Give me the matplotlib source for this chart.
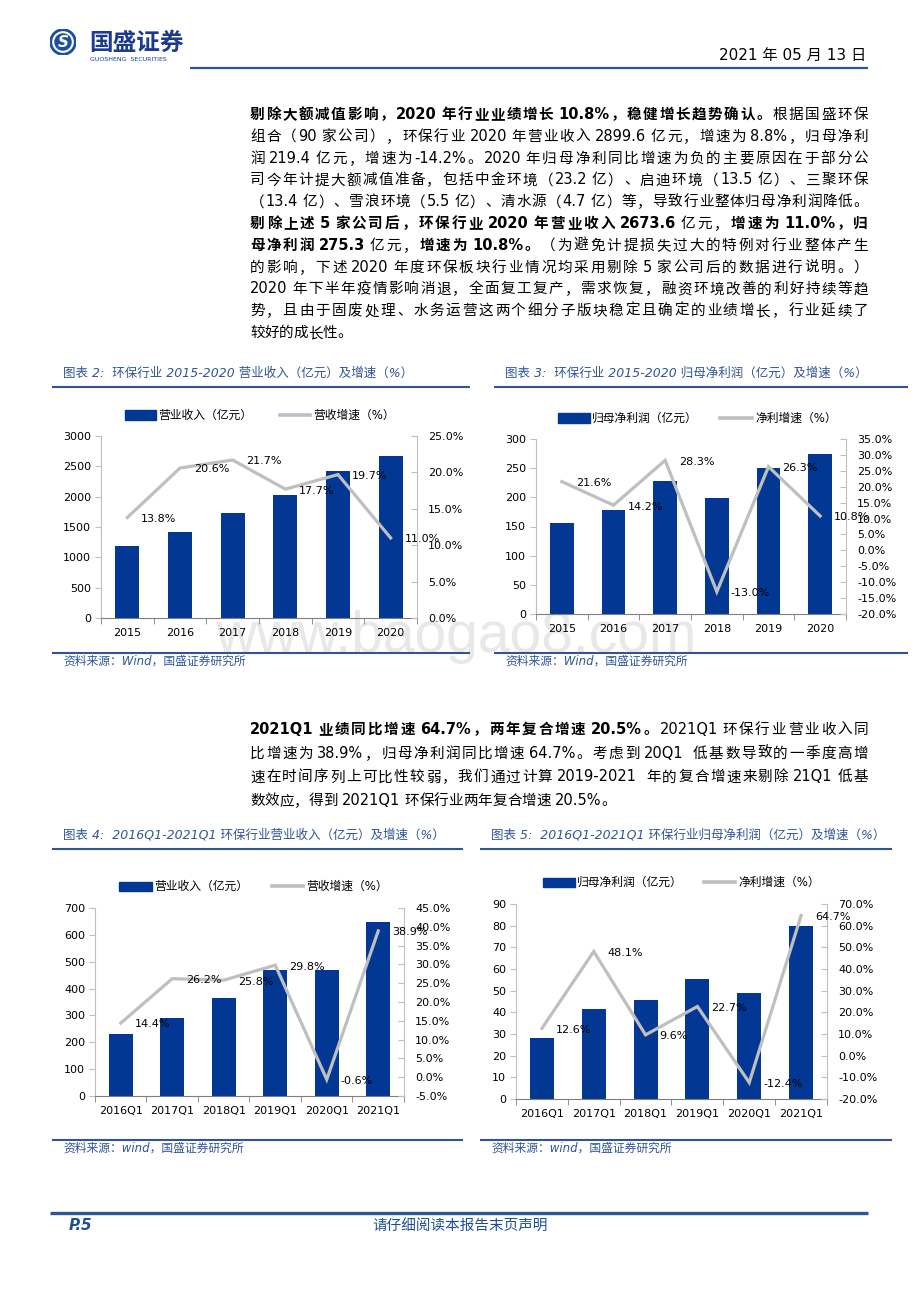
import numpy as np
import matplotlib
matplotlib.use("Agg")
import matplotlib.pyplot as plt
from matplotlib.patches import Rectangle, Circle
from matplotlib.lines import Line2D
from matplotlib.ticker import FuncFormatter
from matplotlib.font_manager import FontProperties, findfont
from matplotlib.ft2font import FT2Font

# ---------------- data ----------------
years = ['2015', '2016', '2017', '2018', '2019', '2020']
revenue = [1180, 1425, 1728, 2030, 2430, 2674]          # 营业收入（亿元）
revenue_growth = [13.8, 20.6, 21.7, 17.7, 19.7, 11.0]   # 营收增速（%）
profit = [156, 178, 228, 199, 250, 275]                 # 归母净利润（亿元）
profit_growth = [21.6, 14.2, 28.3, -13.0, 26.3, 10.8]   # 净利增速（%）

quarters = ['2016Q1', '2017Q1', '2018Q1', '2019Q1', '2020Q1', '2021Q1']
q_revenue = [231, 291, 364, 471, 469, 649]
q_revenue_growth = [14.4, 26.2, 25.8, 29.8, -0.6, 38.9]
q_profit = [28.2, 41.5, 45.5, 55.5, 48.9, 80.0]
q_profit_growth = [12.6, 48.1, 9.6, 22.7, -12.4, 64.7]

# ---------------- page setup ----------------
W, H = 920, 1302
CJK = 'Noto Sans CJK SC'
LAT = 'DejaVu Sans'
MIX = [LAT, CJK]
plt.rcParams['font.family'] = MIX
plt.rcParams['axes.unicode_minus'] = False

BAR = '#023894'
GREY = '#BFBFBF'
NAVY = '#2F5597'
TBLUE = '#2F5597'

fig = plt.figure(figsize=(W / 100, H / 100), dpi=100)
fig.patch.set_facecolor('white')


def fx(x):
    return x / W


def fy(y):
    return 1 - y / H


def hline(x0, x1, y, lw, color=NAVY):
    fig.add_artist(Line2D([fx(x0), fx(x1)], [fy(y), fy(y)], color=color, lw=lw,
                          transform=fig.transFigure, solid_capstyle='butt'))


# ---------------- justified body text ----------------
_fonts = {}


def adv(s, weight, size):
    if weight not in _fonts:
        _fonts[weight] = FT2Font(findfont(FontProperties(family=LAT, weight=weight)))
    f = _fonts[weight]
    f.set_size(size, 100)
    return sum(f.load_char(ord(c)).linearHoriAdvance / 65536 for c in s)


def body_line(y, runs, x0=250, x1=868, size=10.5, justify=True):
    toks = []
    for text, bold in runs:
        w = 'bold' if bold else 'normal'
        buf = ''
        for ch in text:
            if ch == ' ':
                if buf:
                    toks.append(('A', buf, w)); buf = ''
                toks.append(('S', ' ', w))
            elif ord(ch) < 128:
                buf += ch
            else:
                if buf:
                    toks.append(('A', buf, w)); buf = ''
                toks.append(('C', ch, w))
        if buf:
            toks.append(('A', buf, w))
    em = size * 100 / 72
    widths = []
    for k, s, w in toks:
        if k == 'C':
            widths.append(em)
        else:
            widths.append(adv(s, w, size))
    total = sum(widths)
    # gaps that receive justification space: boundaries not touching a space token
    stretch = [i for i in range(len(toks) - 1)
               if toks[i][0] != 'S' and toks[i + 1][0] != 'S']
    n_gap = len(stretch)
    extra = (x1 - x0 - total) / n_gap if (justify and n_gap > 0) else 0
    sset = set(stretch)
    x = x0
    base = y + 5
    for i, ((k, s, w), wd) in enumerate(zip(toks, widths)):
        if k == 'C':
            fig.text(fx(x), fy(base), s, fontsize=size, fontweight=w, family=CJK,
                     va='baseline', ha='left', color='black')
        elif k == 'A':
            fig.text(fx(x), fy(base), s, fontsize=size, fontweight=w, family=LAT,
                     va='baseline', ha='left', color='black')
        x += wd + (extra if i in sset else 0)


# ---------------- header ----------------
lax = fig.add_axes([fx(50), fy(55), 26 / W, 26 / H])
lax.set_xlim(-1, 1); lax.set_ylim(-1, 1); lax.set_aspect('equal'); lax.axis('off')
lax.add_patch(Circle((0, 0), 1.0, color='#1D4FA0'))
lax.add_patch(Circle((0, 0), 0.78, color='white'))
lax.add_patch(Circle((0, 0), 0.62, color='#1D4FA0'))
lax.text(0, -0.05, 'S', color='white', fontsize=11, fontweight='bold',
         ha='center', va='center', family=LAT, style='italic')
fig.text(fx(89), fy(43), '国盛证券', fontsize=17, fontweight='bold', family=CJK,
         color='#1B3C8C', va='center', ha='left')
fig.text(fx(90), fy(59.5), 'GUOSHENG  SECURITIES', fontsize=4.5, family=LAT,
         color='#1B3C8C', va='center', ha='left')
fig.text(fx(866), fy(55), '2021 年 05 月 13 日', fontsize=11, family=MIX,
         color='black', va='center', ha='right')
hline(190, 868, 68, 1.6)

# ---------------- paragraph 1 ----------------
p1 = [
    [('剔除大额减值影响，2020 年行业业绩增长 10.8%，稳健增长趋势确认。', True), ('根据国盛环保', False)],
    [('组合（90 家公司），环保行业 2020 年营业收入 2899.6 亿元，增速为 8.8%，归母净利', False)],
    [('润 219.4 亿元，增速为-14.2%。2020 年归母净利同比增速为负的主要原因在于部分公', False)],
    [('司今年计提大额减值准备，包括中金环境（23.2 亿）、启迪环境（13.5 亿）、三聚环保', False)],
    [('（13.4 亿）、雪浪环境（5.5 亿）、清水源（4.7 亿）等，导致行业整体归母净利润降低。', False)],
    [('剔除上述 5 家公司后，环保行业 2020 年营业收入 2673.6', True), (' 亿元，', False),
     ('增速为 11.0%，归', True)],
    [('母净利润 275.3', True), (' 亿元，', False), ('增速为 10.8%。', True),
     ('（为避免计提损失过大的特例对行业整体产生', False)],
    [('的影响，下述 2020 年度环保板块行业情况均采用剔除 5 家公司后的数据进行说明。）', False)],
    [('2020 年下半年疫情影响消退，全面复工复产，需求恢复，融资环境改善的利好持续等趋', False)],
    [('势，且由于固废处理、水务运营这两个细分子版块稳定且确定的业绩增长，行业延续了', False)],
    [('较好的成长性。', False)],
]
y0, dy = 114, 21.8
for i, runs in enumerate(p1):
    body_line(y0 + i * dy, runs, justify=(i < len(p1) - 1))

# ---------------- paragraph 2 ----------------
p2 = [
    [('2021Q1 业绩同比增速 64.7%，两年复合增速 20.5%。', True), ('2021Q1 环保行业营业收入同', False)],
    [('比增速为 38.9%，归母净利润同比增速 64.7%。考虑到 20Q1  低基数导致的一季度高增', False)],
    [('速在时间序列上可比性较弱，我们通过计算 2019-2021  年的复合增速来剔除 21Q1 低基', False)],
    [('数效应，得到 2021Q1 环保行业两年复合增速 20.5%。', False)],
]
y0, dy = 729, 23.7
for i, runs in enumerate(p2):
    body_line(y0 + i * dy, runs, justify=(i < len(p2) - 1))

# ---------------- watermark ----------------
fig.text(fx(215), fy(652), 'www.baogao8.com', fontsize=41, family='Liberation Sans',
         color='#E8E8E8', va='baseline', ha='left', zorder=-5)


# ---------------- combo charts ----------------
def chart_frame(x0, x1, ytitle, yline, ysrc_line, title, src):
    fig.text(fx(x0 + 11), fy(ytitle), title, fontsize=9, family=MIX, style='italic',
             color=TBLUE, va='center', ha='left')
    hline(x0, x1, yline, 1.5)
    hline(x0, x1, ysrc_line, 1.5)
    fig.text(fx(x0 + 11), fy(ysrc_line + 8), src, fontsize=8.5, family=MIX, style='italic',
             color=TBLUE, va='center', ha='left')


def legend(y, bx0, bx1, t1, lx0, lx1, t2):
    fig.add_artist(Rectangle((fx(bx0), fy(y + 4.5)), (bx1 - bx0) / W, 9 / H,
                             transform=fig.transFigure, color=BAR))
    fig.text(fx(bx1 + 2), fy(y), t1, fontsize=8.5, family=MIX, va='center', ha='left')
    fig.add_artist(Line2D([fx(lx0), fx(lx1)], [fy(y), fy(y)], color=GREY, lw=2.6,
                          transform=fig.transFigure))
    fig.text(fx(lx1 + 3), fy(y), t2, fontsize=8.5, family=MIX, va='center', ha='left')


def combo(l, r, t, b, cats, bars, growth, ymax, ystep, rmin, rmax, rstep, xpad):
    ax = fig.add_axes([l / W, 1 - b / H, (r - l) / W, (b - t) / H])
    ax.set_facecolor('none')
    x = np.arange(len(cats))
    ax.bar(x, bars, width=0.46, color=BAR, zorder=2)
    ax.set_xlim(-0.5, len(cats) - 0.5)
    ax.set_ylim(0, ymax)
    ax.set_yticks(np.arange(0, ymax + ystep / 2, ystep))
    ax.set_xticks(x)
    ax.set_xticklabels(cats)
    ax.set_xticks(np.arange(len(cats) + 1) - 0.5, minor=True)
    ax.tick_params(axis='x', which='major', length=0, pad=xpad, labelsize=8)
    ax.tick_params(axis='x', which='minor', length=4, direction='out', color='#7F7F7F')
    ax.tick_params(axis='y', length=4, direction='out', color=GREY, labelsize=8, pad=3)
    for s in ['top', 'right']:
        ax.spines[s].set_visible(False)
    ax.spines['left'].set_color(GREY)
    ax.spines['bottom'].set_color('#7F7F7F')

    ax2 = ax.twinx()
    ax2.set_facecolor('none')
    ax2.plot(x, growth, color=GREY, lw=2.3, zorder=3, solid_joinstyle='miter')
    ax2.set_ylim(rmin, rmax)
    ax2.set_yticks(np.arange(rmin, rmax + rstep / 2, rstep))
    ax2.yaxis.set_major_formatter(FuncFormatter(lambda v, _: f'{v:.1f}%'))
    ax2.tick_params(axis='y', length=4, direction='in', color=GREY, labelsize=8, pad=8)
    for s in ['top', 'left', 'bottom']:
        ax2.spines[s].set_visible(False)
    ax2.spines['right'].set_color(GREY)
    for xi, g in zip(x, growth):
        ax2.annotate(f'{g:.1f}%', (xi, g), xytext=(10, -1), textcoords='offset points',
                     ha='left', va='center', fontsize=8, family=LAT, zorder=4)
    return ax, ax2


# 图表 2
chart_frame(52, 470, 373, 387, 653,
            '图表 2:  环保行业 2015-2020 营业收入（亿元）及增速（%）',
            '资料来源：Wind，国盛证券研究所')
legend(415, 125, 156, '营业收入（亿元）', 280, 310, '营收增速（%）')
combo(101, 417, 436, 618, years, revenue, revenue_growth, 3000, 500, 0, 25, 5, 7)

# 图表 3
chart_frame(494, 908, 373, 387, 653,
            '图表 3:  环保行业 2015-2020 归母净利润（亿元）及增速（%）',
            '资料来源：Wind，国盛证券研究所')
legend(418, 558, 590, '归母净利润（亿元）', 720, 752, '净利增速（%）')
combo(536, 846, 439, 614, years, profit, profit_growth, 300, 50, -20, 35, 5, 7)

# 图表 4
chart_frame(52, 463, 835, 849, 1140,
            '图表 4:  2016Q1-2021Q1 环保行业营业收入（亿元）及增速（%）',
            '资料来源：wind，国盛证券研究所')
legend(886, 119, 152, '营业收入（亿元）', 272, 303, '营收增速（%）')
combo(95, 404, 908, 1096, quarters, q_revenue, q_revenue_growth, 700, 100, -5, 45, 5, 7)

# 图表 5
chart_frame(480, 892, 835, 849, 1140,
            '图表 5:  2016Q1-2021Q1 环保行业归母净利润（亿元）及增速（%）',
            '资料来源：wind，国盛证券研究所')
legend(882, 543, 575, '归母净利润（亿元）', 704, 735, '净利增速（%）')
combo(516, 827, 904, 1099, quarters, q_profit, q_profit_growth, 90, 10, -20, 70, 10, 7)

# ---------------- footer ----------------
hline(50, 868, 1213, 2.4)
fig.text(fx(69), fy(1225), 'P.5', fontsize=11, fontweight='bold', style='italic',
         family=LAT, color='#1F4E99', va='center', ha='left')
fig.text(fx(460), fy(1225), '请仔细阅读本报告末页声明', fontsize=10.5, style='italic',
         family=MIX, color='#1F4E99', va='center', ha='center')

fig.savefig('out.png', dpi=100, facecolor='white')
